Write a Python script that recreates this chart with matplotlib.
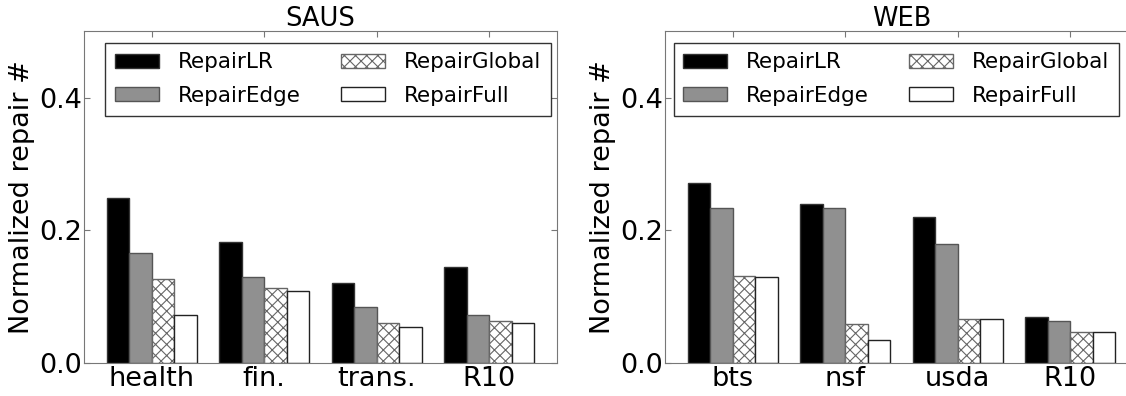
import matplotlib

matplotlib.use("Agg")
import matplotlib.pyplot as plt
import numpy as np

methods = ["RepairLR", "RepairEdge", "RepairGlobal", "RepairFull"]

saus_groups = ["health", "fin.", "trans.", "R10"]
saus_lr = [0.248, 0.183, 0.121, 0.144]
saus_edge = [0.166, 0.130, 0.085, 0.072]
saus_global = [0.127, 0.113, 0.061, 0.064]
saus_full = [0.073, 0.108, 0.055, 0.061]

web_groups = ["bts", "nsf", "usda", "R10"]
web_lr = [0.271, 0.239, 0.220, 0.070]
web_edge = [0.234, 0.233, 0.179, 0.064]
web_global = [0.131, 0.059, 0.066, 0.047]
web_full = [0.129, 0.035, 0.066, 0.047]

styles = [
    dict(color="black", edgecolor="#333333", hatch=None),
    dict(color="#909090", edgecolor="#555555", hatch=None),
    dict(color="white", edgecolor="#666666", hatch="xxx"),
    dict(color="white", edgecolor="#222222", hatch=None),
]

plt.rcParams["hatch.linewidth"] = 0.8
plt.rcParams["font.family"] = "DejaVu Sans"


def draw_panel(ax, title, groups, series, legend_x):
    x = np.arange(len(groups))
    width = 0.2
    for k, (vals, st, name) in enumerate(zip(series, styles, methods)):
        ax.bar(x - 0.4 + k * width, vals, width, align="edge", label=name,
               color=st["color"], edgecolor=st["edgecolor"], hatch=st["hatch"],
               linewidth=1.0)
    ax.set_xlim(-0.6, 3.6)
    ax.set_ylim(0, 0.5)
    ax.set_xticks(x)
    ax.set_xticklabels(groups)
    ax.set_yticks([0.0, 0.2, 0.4])
    ax.set_yticklabels(["0.0", "0.2", "0.4"])
    ax.tick_params(direction="in", top=True, right=True, length=4, color="#777777",
                   labelsize=19.5)
    ax.tick_params(axis="y", pad=1.5)
    ax.tick_params(axis="x", pad=2)
    for sp in ax.spines.values():
        sp.set_color("#777777")
    ax.set_ylabel("Normalized repair #", fontsize=19.5, labelpad=3)
    ax.set_title(title, fontsize=18.5, pad=4)
    leg = ax.legend(ncol=2, loc="upper center", fontsize=15.5, frameon=True, fancybox=False,
                    edgecolor="black", handlelength=2.05, handleheight=0.65,
                    columnspacing=1.85, borderaxespad=0, handletextpad=0.88,
                    labelspacing=0.62, borderpad=0.45,
                    bbox_to_anchor=(legend_x, 0.965))
    leg.get_frame().set_linewidth(1.0)


fig = plt.figure(figsize=(11.26, 3.96), dpi=100)
ax1 = fig.add_axes([0.0746, 0.0833, 0.42, 0.838])
ax2 = fig.add_axes([0.5906, 0.0833, 0.42, 0.838])

draw_panel(ax1, "SAUS", saus_groups, [saus_lr, saus_edge, saus_global, saus_full], 0.516)
draw_panel(ax2, "WEB", web_groups, [web_lr, web_edge, web_global, web_full], 0.489)

fig.savefig("out.png", dpi=100)
